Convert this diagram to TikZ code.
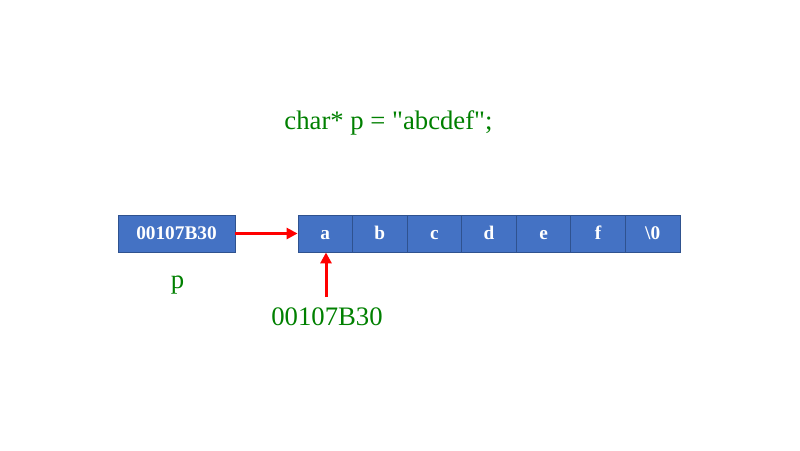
\documentclass[tikz,border=0pt]{standalone}
\usepackage{fontspec}
\setmainfont{Liberation Serif}
\usetikzlibrary{arrows.meta}
\definecolor{cellblue}{HTML}{4472C4}
\definecolor{cellborder}{HTML}{2F528F}
\definecolor{txtgreen}{HTML}{008000}
\tikzset{
  memcell/.style={draw=cellborder, fill=cellblue, line width=0.9pt, inner sep=0pt,
    minimum height=37pt, text height=14pt, text depth=2pt, text=white,
    font=\fontsize{19.3}{21}\selectfont\bfseries},
  ptrarrow/.style={draw=red, line width=3pt, -{Triangle[length=11pt,width=11pt]}},
  greentext/.style={text=txtgreen, font=\fontsize{26.7}{30}\selectfont, inner sep=0pt, anchor=base}
}
\begin{document}
\begin{tikzpicture}[x=1pt,y=-1pt]
\useasboundingbox (0,0) rectangle (800,450);
\node[greentext] (decl) at (388.5,129.5) {char* p = \textquotedbl abcdef\textquotedbl;};
\node[memcell, minimum width=117pt] (ptr) at (176.5,233.5) {00107B30};
\foreach \ch [count=\i from 0] in {a,b,c,d,e,f,{\textbackslash 0}} {
  \node[memcell, minimum width=54.57pt] (c\i) at ({298+54.57*(\i+0.5)},233.5) {\ch};
}
\node[greentext] (pname) at (177.5,288) {p};
\node[greentext] (addr) at (327,325) {00107B30};
\draw[ptrarrow] (ptr.east) -- (c0.west);
\coordinate (astart) at (326,297);
\draw[ptrarrow] (astart) -- (c0.south -| astart);
\end{tikzpicture}
\end{document}
